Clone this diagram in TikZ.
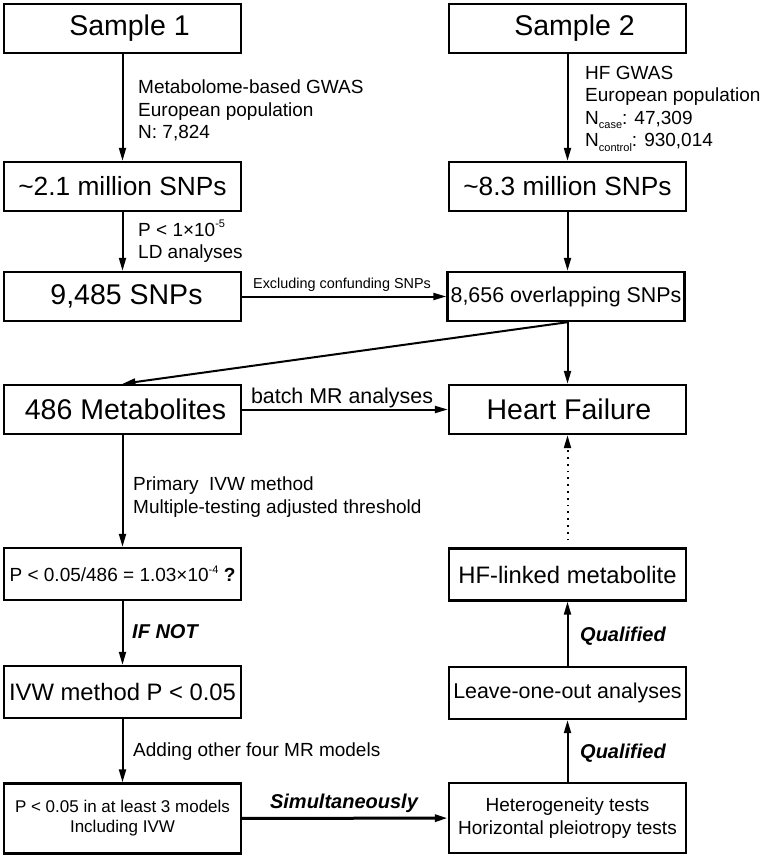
\documentclass[tikz,border=0pt]{standalone}
\usepackage{fontspec}
\setmainfont{Liberation Sans}
\usetikzlibrary{arrows.meta}
\newcommand{\mysub}[1]{\raisebox{-0.45ex}{\fontsize{11}{11}\selectfont #1}}
\newcommand{\mysup}[1]{\raisebox{0.85ex}{\fontsize{11}{11}\selectfont #1}}
\begin{document}
\begin{tikzpicture}[x=1pt,y=-1pt,
  box/.style={draw, line width=2.4pt, minimum width=237pt, minimum height=49pt, inner sep=0pt, align=center},
  tallbox/.style={box, minimum height=52pt},
  bottombox/.style={box, minimum height=70pt},
  fbig/.style={font=\fontsize{28.5}{30}\selectfont},
  fmil/.style={font=\fontsize{26.3}{28}\selectfont},
  fmid/.style={font=\fontsize{23.8}{26}\selectfont},
  fsm/.style={font=\fontsize{21.4}{24}\selectfont},
  fp/.style={font=\fontsize{19}{22}\selectfont},
  arr/.style={line width=2pt, -{Triangle[length=13pt,width=7pt]}},
  dotarr/.style={line width=2pt, dash pattern=on 1.8pt off 5pt, shorten <=7pt, -{Triangle[length=13pt,width=7pt]}},
  lab/.style={anchor=west, align=left, inner sep=0pt, font=\fontsize{19}{22.5}\selectfont},
  bilab/.style={inner sep=0pt, font=\fontsize{20}{22}\selectfont\bfseries\itshape}]
\useasboundingbox (0,0) rectangle (765,858);
\fill[white] (0,0) rectangle (765,858);

% left column
\node[box, fbig] (s1) at (122.5,28.5) {\hspace*{14pt}Sample 1};
\node[box, fmil] (m21) at (122.5,186.5) {\textasciitilde2.1 million SNPs};
\node[box, fbig] (k9485) at (122.5,296.5) {\hspace*{8pt}9,485 SNPs};
\node[box, fbig] (met) at (122.5,409.5) {\hspace*{6pt}486 Metabolites};
\node[tallbox, fp] (pq) at (122.5,574) {P < 0.05/486 = 1.03×10\mysup{-4} \textbf{?}};
\node[tallbox, fmid] (ivw) at (122.5,692) {IVW method P < 0.05};
\node[bottombox, font=\fontsize{17}{20}\selectfont] (p3) at (122.5,818.5) {P < 0.05 in at least 3 models\\Including IVW};

% right column
\node[box, fbig] (s2) at (567.5,28.5) {\hspace*{14pt}Sample 2};
\node[box, fmil] (m83) at (567.5,186.5) {\textasciitilde8.3 million SNPs};
\node[box, fsm] (o8656) at (566,296.5) {8,656 overlapping SNPs};
\node[box, fbig] (hf) at (567.5,409.5) {\hspace*{3pt}Heart Failure};
\node[tallbox, fmid] (hfl) at (567.5,574.5) {HF-linked metabolite};
\node[tallbox, fsm] (loo) at (567.5,693) {Leave-one-out analyses};
\node[bottombox, font=\fontsize{19}{23}\selectfont] (het) at (567.5,818) {Heterogeneity tests\\Horizontal pleiotropy tests};

% labels
\node[lab] (l1) at (138,110.5) {Metabolome-based GWAS\\European population\\N: 7,824};
\node[lab] (l2) at (585,108.5) {HF GWAS\\European population\\N\mysub{case}: 47,309\\N\mysub{control}: 930,014};
\node[lab] (l3) at (138,241.5) {P < 1×10\mysup{-5}\\LD analyses};
\node[lab] (l4) at (133,497) {Primary\ \ IVW method\\Multiple-testing adjusted threshold};
\node[bilab, anchor=west] (l5) at (132,632) {IF NOT};
\node[lab] (l6) at (133,752) {Adding other four MR models};
\node[bilab, anchor=west] (q1) at (580,636) {Qualified};
\node[bilab, anchor=west] (q2) at (580,753) {Qualified};
\node[inner sep=0pt, font=\fontsize{14.4}{16}\selectfont] (lx) at (342,285) {Excluding confunding SNPs};
\node[inner sep=0pt, font=\fontsize{21.4}{24}\selectfont] (lb) at (342,398) {batch MR analyses};
\node[bilab] (ls) at (344,803) {Simultaneously};

% connectors
\draw[arr] (s1) -- (m21);
\draw[arr] (m21) -- (k9485);
\draw[arr] (s2) -- (m83);
\draw[arr] (m83.south) -- (m83.south |- o8656.north);
\draw[arr] (k9485) -- (o8656);
\draw[arr] (o8656.south -| m83.south) -- (met.north);
\draw[arr] (o8656.south -| m83.south) -- (hf.north);
\draw[arr] (met) -- (hf);
\draw[arr] (met) -- (pq);
\draw[arr] (pq) -- (ivw);
\draw[arr] (ivw) -- (p3);
\draw[arr, line width=3pt] (p3) -- (het);
\draw[arr] (het) -- (loo);
\draw[arr] (loo) -- (hfl);
\draw[dotarr] (hfl) -- (hf);
\end{tikzpicture}
\end{document}
